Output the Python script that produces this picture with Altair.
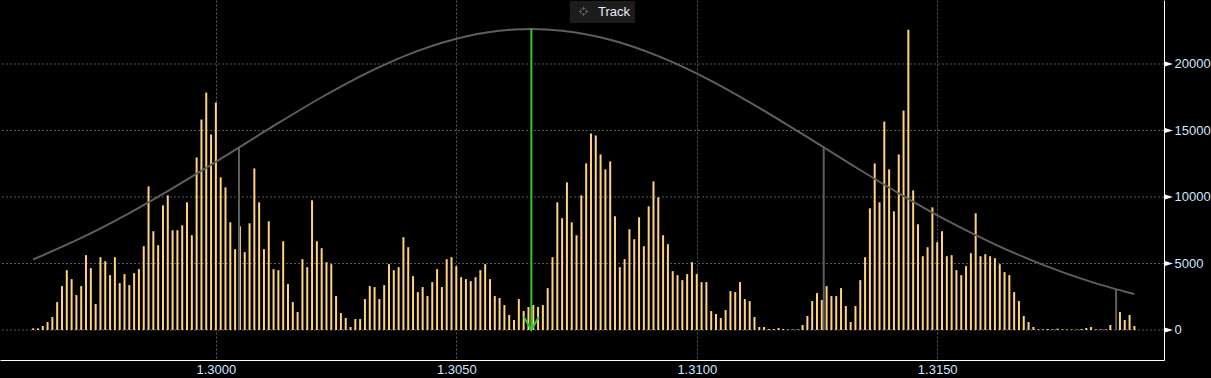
import altair as alt
import pandas as pd

# ---- data ----
# volume per price bin (bins of 0.0001 starting at 1.2962)
volumes = [
    125, 125, 300, 600, 975, 2100, 3300, 4500, 3825, 2625,
    3300, 5625, 4650, 1950, 5475, 5175, 4125, 5475, 3525, 4200,
    3375, 4275, 4575, 6300, 10800, 7425, 6375, 9375, 10125, 7500,
    7500, 7875, 9600, 7125, 12975, 15825, 17850, 14700, 17100, 11475,
    10725, 8100, 6075, 7800, 5850, 8025, 12150, 9600, 6075, 8175,
    4575, 4500, 6675, 3450, 2100, 1350, 5325, 4725, 9750, 6675,
    6150, 5100, 4950, 2550, 1275, 900, 225, 825, 825, 2325,
    3300, 3225, 2325, 3375, 4950, 4500, 4725, 6975, 6225, 4050,
    2850, 3225, 2550, 3600, 4575, 3225, 5325, 5475, 4800, 3975,
    3825, 3675, 3975, 4500, 4950, 3825, 2550, 2400, 1875, 1125,
    750, 2325, 1425, 1725, 1875, 1725, 1875, 3150, 5475, 9600,
    8400, 11100, 8100, 7125, 10125, 12525, 14775, 14625, 13200, 12075,
    12675, 8550, 4725, 5325, 7575, 6825, 8475, 6300, 9300, 11175,
    9975, 7125, 6450, 4425, 4125, 3750, 4200, 5100, 4200, 3600,
    3600, 1425, 1200, 900, 1500, 2925, 2850, 3600, 2325, 2175,
    975, 225, 225, 75, 75, 150, 75, 40, 40, 40,
    375, 1050, 2175, 2775, 2250, 3300, 2550, 2550, 3150, 1800,
    600, 1800, 3750, 5475, 9150, 12525, 9600, 15675, 12075, 8925,
    13200, 16500, 22575, 10500, 7950, 5550, 6225, 9225, 6600, 7425,
    5550, 5625, 4500, 4125, 4800, 5775, 8775, 5550, 5700, 5550,
    5400, 4950, 4350, 4125, 2850, 2175, 1050, 600, 225, 50,
    40, 75, 50, 100, 50, 40, 40, 40, 75, 150,
    225, 50, 50, 50, 375, 0, 1350, 750, 1125, 300,
]
bin_start = 1.2962
bin_step = 0.0001
prices = [round(bin_start + bin_step * i, 4) for i in range(len(volumes))]

# fitted curve, points
curve_x = [1.2962, 1.2972, 1.2982, 1.2992, 1.3002, 1.3012, 1.3022, 1.3032,
           1.3042, 1.3052, 1.3062, 1.30656, 1.3072, 1.3082, 1.3092, 1.3102,
           1.3112, 1.3122, 1.3132, 1.3142, 1.3152, 1.3162, 1.3172, 1.3182, 1.3191]
curve_y = [5300, 6920, 8790, 10880, 13090, 15340, 17500, 19430,
           20990, 22070, 22590, 22630, 22500, 21820, 20590, 18920,
           16910, 14720, 12470, 10280, 8240, 6440, 4900, 3620, 2700]

# grey marker lines (price, height)
marker_x = [1.30048, 1.31264, 1.31872]
marker_top = [13725, 13725, 3063]

# green "track" line
track_x = [1.30656]
track_top = [22630]

x_ticks = [1.300, 1.305, 1.310, 1.315]
y_grid = [0, 5000, 10000, 15000, 20000]
y_ticks = [0, 2500, 5000, 7500, 10000, 12500, 15000, 17500, 20000, 22500]

# ---- frames ----
bars_df = pd.DataFrame({"price": prices, "vol": volumes})
curve_df = pd.DataFrame({"price": curve_x, "vol": curve_y, "series": ["Track"] * len(curve_x)})
marker_df = pd.DataFrame({"price": marker_x, "vol": marker_top})
track_df = pd.DataFrame({"price": track_x, "vol": track_top})
grid_df = pd.DataFrame({"vol": y_grid})

FONT = "Liberation Sans"
LABEL_COLOR = "#cfe6ff"

xscale = alt.Scale(domain=[1.295615, 1.319612], nice=False, zero=False)
yscale = alt.Scale(domain=[-2256, 24812], nice=False, zero=False)

xaxis = alt.Axis(values=x_ticks, format=".4f", grid=True, gridColor="#5a5a5a",
                 gridDash=[2, 2], gridWidth=1, ticks=False, domainColor="#ffffff",
                 domainWidth=1, labelColor=LABEL_COLOR, labelFont=FONT,
                 labelFontSize=13, labelPadding=3, title=None)
yaxis = alt.Axis(orient="right", values=y_ticks, grid=False,
                 labelExpr="datum.value % 5000 == 0 ? format(datum.value, 'd') : ''",
                 tickColor="#ffffff", tickSize=3, tickWidth=1, domainColor="#ffffff",
                 domainWidth=1, labelColor=LABEL_COLOR, labelFont=FONT,
                 labelFontSize=13, labelPadding=7, labelBaseline="middle", title=None)

X = lambda f="price": alt.X(f"{f}:Q", scale=xscale, axis=xaxis)
Y = lambda f="vol": alt.Y(f"{f}:Q", scale=yscale, axis=yaxis)

grid = alt.Chart(grid_df).mark_rule(color="#5a5a5a", strokeDash=[2, 2], strokeWidth=1).encode(
    y=Y()
)

bars = alt.Chart(bars_df).mark_bar(size=2, color="#ffd27f").encode(
    x=X(), y=Y(), y2=alt.datum(0)
)

markers = alt.Chart(marker_df).mark_rule(color="#5e5e5e", strokeWidth=2).encode(
    x=X(), y=Y(), y2=alt.datum(0)
)

crosshair = ("M-1,0L-0.35,0M0.35,0L1,0M0,-1L0,-0.35M0,0.35L0,1"
             "M-0.65,0A0.65,0.65 0 1,0 0.65,0A0.65,0.65 0 1,0 -0.65,0")

curve = alt.Chart(curve_df).mark_line(strokeWidth=2, interpolate="monotone").encode(
    x=X(), y=Y(),
    color=alt.Color("series:N", scale=alt.Scale(domain=["Track"], range=["#5e5e5e"]),
                    legend=alt.Legend(orient="none", legendX=570, legendY=1, title=None,
                                      fillColor="#1c1c1c", padding=4, symbolType=crosshair,
                                      symbolSize=90, symbolStrokeWidth=1, symbolOffset=3,
                                      symbolFillColor="transparent", labelOffset=8,
                                      labelColor="#e8eef5", labelFont=FONT,
                                      labelFontSize=13)),
)

track = alt.Chart(track_df).mark_rule(color="#35c435", strokeWidth=2).encode(
    x=X(), y=Y(), y2=alt.datum(0)
)

arrow = alt.Chart(track_df).mark_point(
    shape="M-1,-1.75L0,0L1,-1.75", size=225, filled=False, color="#35c435",
    strokeWidth=2, opacity=1
).encode(x=X(), y=alt.datum(0))

tri = alt.Chart(grid_df).mark_point(
    shape="M-1,-0.6L1,0L-1,0.6Z", size=81, filled=True, color="#ffffff", opacity=1
).encode(x=alt.value(1168.5), y=Y())

chart = alt.layer(grid, bars, markers, curve, track, arrow, tri).properties(
    width=1164, height=360,
    background="#000000",
    autosize=alt.AutoSizeParams(type="none"),
    padding={"left": 0, "top": 0, "right": 47, "bottom": 18},
).configure_view(stroke=None)

chart.save("out.html", embed_options={"renderer": "svg", "actions": False})
